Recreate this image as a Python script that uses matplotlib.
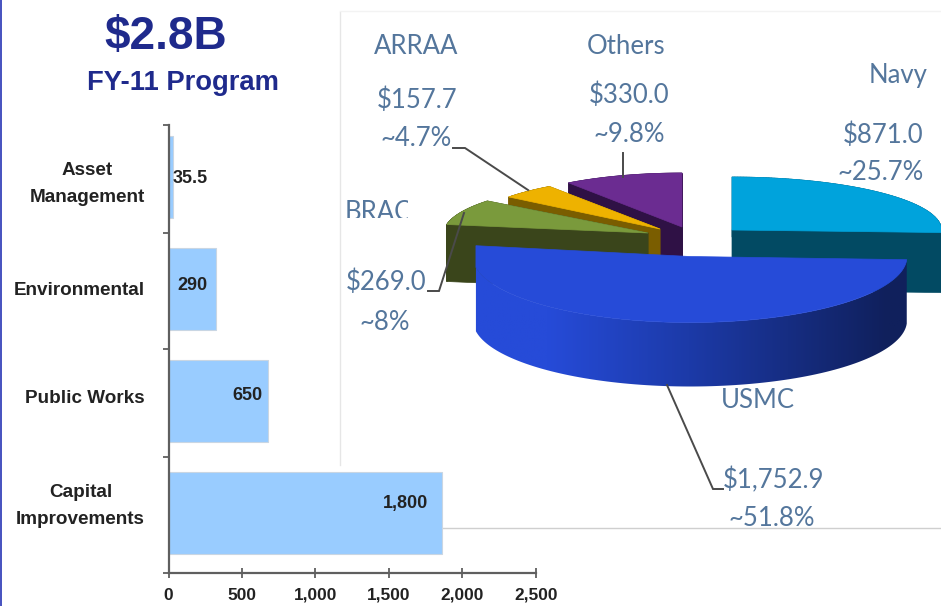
import numpy as np
import matplotlib
matplotlib.use("Agg")
import matplotlib.pyplot as plt
from matplotlib.patches import Polygon, Rectangle
from matplotlib.ticker import FuncFormatter
from matplotlib.transforms import ScaledTranslation

# ---------- data ----------
categories = ["Capital\nImprovements", "Public Works", "Environmental", "Asset\nManagement"]
bar_lengths = [1860, 677, 322, 28]            # bar lengths as drawn in the picture
bar_labels = ["1,800", "650", "290", "35.5"]  # numbers as printed
x_ticks = [0, 500, 1000, 1500, 2000, 2500]

pie_names = ["Navy", "USMC", "BRAC", "ARRAA", "Others"]
pie_values = [871.0, 1752.9, 269.0, 157.7, 330.0]

# ---------- style / layout ----------
W, H = 941, 606
SANS = "Liberation Sans"
LABEL_BLUE = "#54769c"
DARK = "#222222"
TITLE = "#1f2a8c"
top_colors = {"Navy": "#00a3dc", "USMC": "#264bd8", "BRAC": "#7a9a3c", "ARRAA": "#eeb200", "Others": "#6b2c91"}
side_colors = {"Navy": "#024a63", "BRAC": "#3a451b", "ARRAA": "#7a5d00", "Others": "#2f1145"}
# centre x, centre y, radius x, radius y, depth (pixels of the exploded, tilted slices)
geometry = {
    "Others": (682, 227, 197, 54, 57),
    "ARRAA": (660, 229, 192, 52, 50),
    "BRAC": (648, 233, 204, 52, 57),
    "Navy": (732, 230, 209.5, 53, 60),
    "USMC": (690, 256.5, 217, 66, 64),
}
draw_order = ["Others", "ARRAA", "BRAC", "Navy", "USMC"]

fig = plt.figure(figsize=(W / 100, H / 100), dpi=100, facecolor="white")

# ---------- pixel-space canvas for the pie and decorations ----------
ax = fig.add_axes([0, 0, 1, 1], zorder=0)
ax.set_xlim(0, W)
ax.set_ylim(H, 0)
ax.axis("off")

ax.add_patch(Rectangle((0, 0), 2.2, H, color="#4a55c0", lw=0))
ax.plot([340, 340], [12, 465], color="#e6e6e6", lw=1)
ax.plot([340, W], [11, 11], color="#f3f3f3", lw=1)
ax.plot([442, W], [528, 528], color="#cfcfcf", lw=1)

# slice angles (clockwise from 12 o'clock) follow from the values
fractions = np.array(pie_values) / np.sum(pie_values)
edges = np.concatenate([[0], np.cumsum(fractions)]) * 2 * np.pi
angle_span = {n: (edges[i], edges[i + 1]) for i, n in enumerate(pie_names)}


def arc_points(name, n=120):
    cx, cy, rx, ry, _ = geometry[name]
    a0, a1 = angle_span[name]
    t = np.linspace(a0, a1, n)
    xs = cx + rx * np.sin(t)
    if name == "USMC":
        # the front slice has a straight left wall in the picture
        xs = np.maximum(xs, xs[-1])
    return np.column_stack([xs, cy - ry * np.cos(t)])


for name in draw_order:
    cx, cy, rx, ry, depth = geometry[name]
    arc = arc_points(name)
    outline = np.vstack([[cx, cy], arc, [cx, cy]])
    shift = np.array([0, depth])
    if name == "USMC":
        side = np.vstack([arc, (arc + shift)[::-1]])
        clip = Polygon(side, closed=True, transform=ax.transData, fc="none", ec="none")
        ax.add_patch(clip)
        stops = np.array([[0x26, 0x4b, 0xd8], [0x26, 0x4b, 0xd8], [0x1c, 0x3a, 0xa8], [0x10, 0x20, 0x5c]]) / 255
        pos = np.array([0.0, 0.18, 0.5, 0.95])
        u = np.linspace(0, 1, 256)
        grad = np.stack([np.interp(u, pos, stops[:, c]) for c in range(3)], axis=-1)[None, :, :]
        im = ax.imshow(grad, extent=[468, 910, 400, 240], aspect="auto", zorder=2 + draw_order.index(name) * 0.1)
        im.set_clip_path(clip)
    else:
        for p, q in zip(outline[:-1], outline[1:]):
            ax.add_patch(Polygon([p, q, q + shift, p + shift], closed=True, fc=side_colors[name],
                                 ec=side_colors[name], lw=0.5, zorder=2 + draw_order.index(name) * 0.1))
    ax.add_patch(Polygon(outline, closed=True, fc=top_colors[name], ec=top_colors[name], lw=0.5,
                         zorder=2.01 + draw_order.index(name) * 0.1))
ax.set_xlim(0, W)
ax.set_ylim(H, 0)

# leader lines
leaders = [
    ([453, 465, 528], [148, 148, 190], 2.15),
    ([623, 623], [153, 177], 2.15),
    ([428, 439, 464], [291, 291, 213], 2.35),
    ([667, 713, 723], [385, 489, 489], 2.5),
]
for xs, ys, z in leaders:
    ax.plot(xs, ys, color="#4a4a4a", lw=1.4, zorder=z, solid_joinstyle="miter")

# pie labels
pie_font = dict(family="Lato", color=LABEL_BLUE, ha="center", va="center", fontsize=18.5, parse_math=False, zorder=5)
pie_texts = [
    (416, 46, "ARRAA"), (417, 100, "$157.7"), (416, 139, "~4.7%"),
    (626, 46, "Others"), (629, 95, "$330.0"), (629, 135, "~9.8%"),
    (898, 76, "Navy"), (883, 135, "$871.0"), (881, 173, "~25.7%"),
    (386, 282, "$269.0"), (385, 322, "~8%"),
    (758, 400, "USMC"), (774, 480, "$1,752.9"), (772, 519, "~51.8%"),
]
for x, y_, s in pie_texts:
    ax.text(x, y_, s, **pie_font)
brac = ax.text(378, 213, "BRAC", **pie_font)
brac.set_clip_path(Rectangle((340, 190), 68, 28, transform=ax.transData))
brac.set_clip_on(True)

# titles
ax.text(166, 37, "$2.8B", family=SANS, weight="bold", fontsize=33, color=TITLE, ha="center", va="center",
        parse_math=False)
ax.text(183.5, 83, "FY-11 Program", family=SANS, weight="bold", fontsize=19.7, color=TITLE, ha="center",
        va="center", parse_math=False)

# ---------- bar chart ----------
x0, x1, y_top, y_bot = 168.6, 535.7, 125, 573
axb = fig.add_axes([x0 / W, 1 - y_bot / H, (x1 - x0) / W, (y_bot - y_top) / H], zorder=1)
axb.patch.set_alpha(0)
y = np.arange(len(categories))
axb.barh(y, bar_lengths, height=0.73, color="#99ccff", edgecolor="#c9d6e3", linewidth=0.8)
axb.set_xlim(0, 2500)
axb.set_ylim(-0.536, 3.464)

for s in ("top", "right"):
    axb.spines[s].set_visible(False)
for s in ("left", "bottom"):
    axb.spines[s].set_color("#5f5f5f")
    axb.spines[s].set_linewidth(1.6)

axb.set_xticks(x_ticks)
axb.xaxis.set_major_formatter(FuncFormatter(lambda v, _: f"{int(v):,}"))
axb.tick_params(axis="x", direction="inout", length=7, width=1.3, color="#5f5f5f", pad=7)
for t in axb.get_xticklabels():
    t.set(family=SANS, weight="bold", fontsize=12.4, color=DARK)

axb.set_yticks(y)
axb.set_yticklabels(categories, linespacing=1.8, ma="center")
axb.tick_params(axis="y", which="major", length=0, pad=17)
axb.set_yticks([-0.536, 0.5, 1.46, 2.5, 3.464], minor=True)
axb.tick_params(axis="y", which="minor", direction="out", length=4, width=1.3, color="#5f5f5f")
# small vertical nudge of each category label, in points
cat_nudges = [10, 3.5, 0, 0]
for t, dy in zip(axb.get_yticklabels(), cat_nudges):
    t.set(family=SANS, weight="bold", fontsize=13.6, color=DARK)
    t.set_transform(t.get_transform() + ScaledTranslation(0, dy / 72, fig.dpi_scale_trans))

# value labels: (anchor side, x offset, y offset in pixels)
label_offsets = [("right", -14, 9), ("right", -6, 5), ("right", -8, 3), ("left", 0, -2)]
for yi, length, lab, (ha, dx, dy) in zip(y, bar_lengths, bar_labels, label_offsets):
    axb.annotate(lab, (length, yi), xytext=(dx * 0.72, dy * 0.72), textcoords="offset points",
                 ha=ha, va="center", family=SANS, weight="bold", fontsize=13, color=DARK)

fig.savefig("out.png", dpi=100)
